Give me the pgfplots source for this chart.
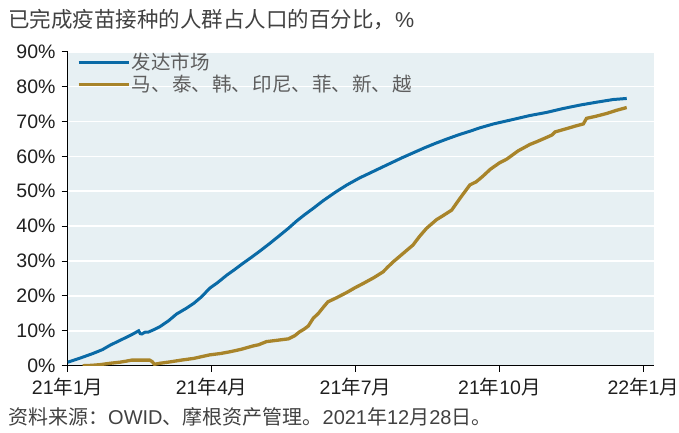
\documentclass[border=0pt]{standalone}
\usepackage{fontspec}
\setmainfont{Liberation Sans}
\newfontfamily\cjk{Noto Sans CJK SC}
\usepackage{pgfplots}
\pgfplotsset{compat=1.18}
\definecolor{dmblue}{HTML}{0A6AA6}
\definecolor{asgold}{HTML}{A8842A}
\definecolor{plotbg}{HTML}{E7F0F3}
\definecolor{txtgray}{HTML}{5E5E5E}
\definecolor{txtdark}{HTML}{1F1F1F}
\newcommand{\dun}{、\kern1.2pt}

\begin{document}
\begin{tikzpicture}[x=1pt,y=1pt]
\begin{axis}[
  at={(67.7pt,66.3pt)}, anchor=south west,
  scale only axis, width=586.3pt, height=314pt,
  xmin=0, xmax=371.8, ymin=0, ymax=90,
  axis background/.style={fill=plotbg},
  axis x line*=bottom, axis y line*=left,
  axis line style={black, line width=1pt, -},
  tick style={black, line width=1pt},
  tick align=outside, major tick length=6pt,
  xtick={0,91.25,182.5,273.75,365},
  xticklabels={21{\cjk 年}1{\cjk 月},21{\cjk 年}4{\cjk 月},21{\cjk 年}7{\cjk 月},21{\cjk 年}10{\cjk 月},22{\cjk 年}1{\cjk 月}},
  ytick={0,10,...,90},
  yticklabels={0\%,10\%,20\%,30\%,40\%,50\%,60\%,70\%,80\%,90\%},
  ymajorgrids, major grid style={white, line width=1.6pt},
  ticklabel style={font=\fontsize{19.5}{22}\selectfont, text=txtdark},
  yticklabel style={inner sep=0pt, xshift=-6pt},
  xticklabel style={inner sep=0pt, yshift=-6pt},
  legend cell align=left,
  legend image code/.code={\draw[#1, line width=3.5pt] (0pt,0pt) -- (50pt,0pt);},
  legend style={at={(0.0154,1.0)}, anchor=north west, draw=none, fill=none,
    inner sep=0pt, row sep=1pt,
    font=\fontsize{19.5}{19.5}\selectfont\cjk, text=txtgray,
    nodes={inner sep=1.5pt}},
]
\addplot[dmblue, line width=3pt] coordinates {
(0,1.0) (8,2.2) (16,3.5) (22,4.6) (27,5.9) (32,7.0) (37,8.1) (41,9.0) (45,10.0)
(46,9.2) (47,9.1) (49,9.6) (51,9.6) (55,10.4) (58.5,11.2) (64,12.9) (69,14.8)
(75,16.4) (80,17.9) (85,19.8) (90,22.2) (95,23.8) (101,26.0) (106,27.6) (111,29.3)
(116,30.9) (122,32.9) (128,35.0) (134.6,37.4) (140,39.4) (145,41.4) (150,43.2)
(155.7,45.1) (162,47.3) (170,49.8) (177,51.8) (185,53.8) (192,55.3) (198,56.6)
(205,58.1) (212,59.6) (219,61.0) (226,62.4) (233,63.7) (240,64.9) (248,66.2)
(255,67.2) (261.5,68.2) (270,69.3) (282.6,70.6) (293,71.7) (303.7,72.6)
(314,73.7) (324.8,74.7) (335,75.5) (346,76.3) (354.5,76.6)
};
\addlegendentry{发达市场}
\addplot[asgold, line width=3.3pt] coordinates {
(9.5,0) (15,0.1) (20.5,0.3) (27,0.7) (33,1.0) (37,1.3) (40.6,1.6) (46,1.6) (52,1.6)
(53.5,1.2) (55,0.4) (58.5,0.7) (65,1.1) (72,1.6) (80,2.1) (85,2.6) (90,3.1)
(97,3.5) (103,4.0) (110,4.7) (117,5.6) (121,6.0) (126,6.9) (133,7.3) (140,7.7)
(144,8.6) (147,9.7) (150,10.5) (152.6,11.4) (155.7,13.6) (159,15.0) (162,16.7)
(165,18.3) (170.6,19.5) (177,21.0) (182,22.3) (187.5,23.6) (194,25.2) (200,26.9)
(203,28.3) (206.5,29.8) (213,32.3) (219,34.6) (223,37.0) (227.6,39.4) (234,41.9)
(238,43.0) (243.5,44.6) (248.8,48.0) (255,51.8) (259,52.7) (263,54.2) (268,56.3)
(274,58.2) (278.4,59.2) (285.7,61.6) (289,62.4) (293,63.4) (297.4,64.2)
(302,65.1) (307,66.1) (309,67.0) (316,67.9) (322,68.7) (327,69.3) (329,70.9)
(335,71.5) (341.8,72.3) (348,73.2) (354.5,74.0)
};
\addlegendentry{马\dun 泰\dun 韩\dun 印尼\dun 菲\dun 新\dun 越}
\end{axis}
\node[anchor=west, inner sep=0pt, text=txtdark!85, font=\fontsize{21.5}{23}\selectfont] at (8pt,412pt) {{\cjk 已完成疫苗接种的人群占人口的百分比，}\%};
\node[anchor=west, inner sep=0pt, text=txtdark!85, font=\fontsize{20}{22}\selectfont] at (8pt,15pt) {{\cjk 资料来源：}OWID{\cjk 、摩根资产管理。}2021{\cjk 年}12{\cjk 月}28{\cjk 日。}};
\pgfresetboundingbox
\useasboundingbox (0pt,0pt) rectangle (679pt,432pt);
\end{tikzpicture}
\end{document}
